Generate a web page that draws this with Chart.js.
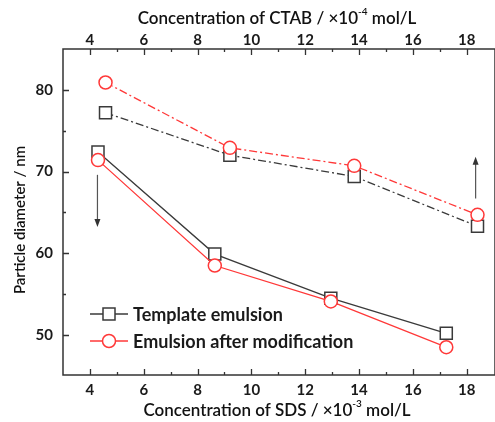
<!DOCTYPE html>
<html>
<head>
<meta charset="utf-8">
<script src="https://cdn.jsdelivr.net/npm/chart.js@4.4.1/dist/chart.umd.min.js"></script>
<style>
  html, body { margin: 0; padding: 0; background: #fff; overflow: hidden; }
</style>
</head>
<body>
<canvas id="c" width="505" height="422"></canvas>
<script>
// SDS series (bottom axis, x10^-3 mol/L), solid lines
const sdsConc = [4.3, 8.64, 12.95, 17.24];
const sdsTemplate = [72.4, 59.9, 54.5, 50.2];
const sdsModified = [71.4, 58.5, 54.1, 48.5];

// CTAB series (top axis, x10^-4 mol/L), dash-dot lines
const ctabConc = [4.58, 9.2, 13.82, 18.4];
const ctabTemplate = [77.2, 72.0, 69.4, 63.3];
const ctabModified = [80.9, 72.9, 70.7, 64.7];

// ticks
const xTicks = [4, 6, 8, 10, 12, 14, 16, 18];
const xMinor = [5, 7, 9, 11, 13, 15, 17];
const yTicks = [50, 60, 70, 80];
const yMinor = [55, 65, 75];

// arrows pointing to the axis each pair of curves belongs to
const arrowX = [4.28, 18.33];
const arrowFrom = [69.6, 66.7];
const arrowTo = [63.2, 71.8];
const arrowAxis = ['x', 'x2'];

const legendLabels = ['Template emulsion', 'Emulsion after modification'];

const BLACK = '#3a3a3a';
const RED = '#ff3838';
const AXIS = '#333';
const FONT = 'Lato';

function pts(xs, ys) {
  return xs.map((x, i) => ({ x: x, y: ys[i] }));
}

const tickFont = { family: FONT, size: 15, weight: 'bold' };

function xScale(pos, pad, h) {
  return {
    type: 'linear',
    position: pos,
    min: 3,
    max: 19.05,
    grid: { display: false, drawTicks: false, tickLength: 0 },
    border: { display: false },
    ticks: { font: tickFont, color: '#1a1a1a', padding: pad, maxRotation: 0 },
    afterBuildTicks: s => { s.ticks = xTicks.map(v => ({ value: v })); },
    afterFit: s => { s.height = h; }
  };
}

// frame + inward ticks
const framePlugin = {
  id: 'frame',
  afterDatasetsDraw(chart) {
    const ctx = chart.ctx;
    const a = chart.chartArea;
    const sx = chart.scales.x, sx2 = chart.scales.x2, sy = chart.scales.y;
    ctx.save();
    ctx.strokeStyle = AXIS;
    ctx.lineWidth = 1.5;
    ctx.strokeRect(a.left, a.top, a.right - a.left, a.bottom - a.top);
    ctx.lineWidth = 1.3;
    ctx.beginPath();
    xTicks.forEach(v => {
      const px = Math.round(sx.getPixelForValue(v)) + 0.5;
      ctx.moveTo(px, a.bottom); ctx.lineTo(px, a.bottom - 6);
      const px2 = Math.round(sx2.getPixelForValue(v)) + 0.5;
      ctx.moveTo(px2, a.top); ctx.lineTo(px2, a.top + 6);
    });
    xMinor.forEach(v => {
      const px = Math.round(sx.getPixelForValue(v)) + 0.5;
      ctx.moveTo(px, a.bottom); ctx.lineTo(px, a.bottom - 3);
      const px2 = Math.round(sx2.getPixelForValue(v)) + 0.5;
      ctx.moveTo(px2, a.top); ctx.lineTo(px2, a.top + 3);
    });
    yTicks.forEach(v => {
      const py = Math.round(sy.getPixelForValue(v)) + 0.5;
      ctx.moveTo(a.left, py); ctx.lineTo(a.left + 6, py);
    });
    yMinor.forEach(v => {
      const py = Math.round(sy.getPixelForValue(v)) + 0.5;
      ctx.moveTo(a.left, py); ctx.lineTo(a.left + 3, py);
    });
    ctx.stroke();
    ctx.restore();
  }
};

// text with a superscript part
function drawParts(ctx, parts, cx, cy, size) {
  const main = '600 ' + size + 'px ' + FONT;
  const sup = '600 ' + Math.round(size * 0.6) + 'px ' + FONT;
  let total = 0;
  parts.forEach(p => { ctx.font = p.sup ? sup : main; total += ctx.measureText(p.t).width; });
  let x = cx - total / 2;
  parts.forEach(p => {
    ctx.font = p.sup ? sup : main;
    ctx.fillText(p.t, x, p.sup ? cy - size * 0.45 : cy);
    x += ctx.measureText(p.t).width;
  });
}

const decorPlugin = {
  id: 'decor',
  afterDraw(chart) {
    const ctx = chart.ctx;
    const a = chart.chartArea;
    const midX = (a.left + a.right) / 2;
    ctx.save();
    ctx.fillStyle = '#111';
    ctx.textBaseline = 'middle';
    ctx.textAlign = 'left';

    // axis titles
    drawParts(ctx, [{ t: 'Concentration of SDS / ×10' }, { t: '-3', sup: true }, { t: ' mol/L' }], midX - 2, a.bottom + 36, 17);
    drawParts(ctx, [{ t: 'Concentration of CTAB / ×10' }, { t: '-4', sup: true }, { t: ' mol/L' }], midX - 2, a.top - 30, 17);

    ctx.save();
    ctx.translate(20, (a.top + a.bottom) / 2 + 8);
    ctx.rotate(-Math.PI / 2);
    ctx.textAlign = 'center';
    ctx.font = '600 15px ' + FONT;
    ctx.fillText('Particle diameter / nm', 0, 0);
    ctx.restore();

    // arrows
    ctx.strokeStyle = '#555';
    ctx.fillStyle = '#333';
    ctx.lineWidth = 1.2;
    arrowX.forEach((v, i) => {
      const px = chart.scales[arrowAxis[i]].getPixelForValue(v);
      const y0 = chart.scales.y.getPixelForValue(arrowFrom[i]);
      const y1 = chart.scales.y.getPixelForValue(arrowTo[i]);
      const dir = y1 > y0 ? 1 : -1;
      ctx.beginPath();
      ctx.moveTo(px, y0);
      ctx.lineTo(px, y1 - dir * 6);
      ctx.stroke();
      ctx.beginPath();
      ctx.moveTo(px, y1);
      ctx.lineTo(px - 3, y1 - dir * 8);
      ctx.lineTo(px + 3, y1 - dir * 8);
      ctx.closePath();
      ctx.fill();
    });

    // legend
    const lx = a.left + 27, ly = a.bottom - 61;
    const colors = [BLACK, RED];
    legendLabels.forEach((lab, i) => {
      const y = ly + i * 27;
      ctx.strokeStyle = colors[i];
      ctx.lineWidth = 1.3;
      ctx.beginPath();
      ctx.moveTo(lx, y); ctx.lineTo(lx + 38, y);
      ctx.stroke();
      ctx.fillStyle = '#fff';
      ctx.lineWidth = 1.5;
      ctx.beginPath();
      if (i === 0) ctx.rect(lx + 13, y - 6, 12, 12);
      else ctx.arc(lx + 19, y, 6.5, 0, Math.PI * 2);
      ctx.fill();
      ctx.stroke();
      ctx.fillStyle = '#1a1a1a';
      ctx.font = 'bold 18px ' + FONT;
      ctx.fillText(lab, lx + 43, y + 1);
    });
    ctx.restore();
  }
};

function series(label, xs, ys, axis, color, style, radius, dash, order) {
  return {
    label: label,
    data: pts(xs, ys),
    xAxisID: axis,
    showLine: true,
    borderColor: color,
    borderWidth: 1.3,
    borderDash: dash,
    pointStyle: style,
    pointRadius: radius,
    pointBorderColor: color,
    pointBackgroundColor: '#fff',
    pointBorderWidth: 1.5,
    order: order
  };
}

new Chart(document.getElementById('c'), {
  type: 'scatter',
  data: {
    datasets: [
      series('Template emulsion', sdsConc, sdsTemplate, 'x', BLACK, 'rect', 8.5, [], 2),
      series('Emulsion after modification', sdsConc, sdsModified, 'x', RED, 'circle', 6.5, [], 1),
      series('Template emulsion (CTAB)', ctabConc, ctabTemplate, 'x2', BLACK, 'rect', 8.5, [8, 3, 2, 3], 4),
      series('Emulsion after modification (CTAB)', ctabConc, ctabModified, 'x2', RED, 'circle', 6.5, [8, 3, 2, 3], 3)
    ]
  },
  options: {
    responsive: false,
    animation: false,
    layout: { padding: 0 },
    plugins: { legend: { display: false }, tooltip: { enabled: false } },
    scales: {
      x: xScale('bottom', 6, 47),
      x2: xScale('top', 0, 49),
      y: {
        type: 'linear',
        position: 'left',
        min: 45.1,
        max: 85,
        grid: { display: false, drawTicks: false, tickLength: 0 },
        border: { display: false },
        ticks: { font: tickFont, color: '#1a1a1a', padding: 10 },
        afterBuildTicks: s => { s.ticks = yTicks.map(v => ({ value: v })); },
        afterFit: s => { s.width = 63; }
      }
    }
  },
  plugins: [framePlugin, decorPlugin]
});
</script>
</body>
</html>
